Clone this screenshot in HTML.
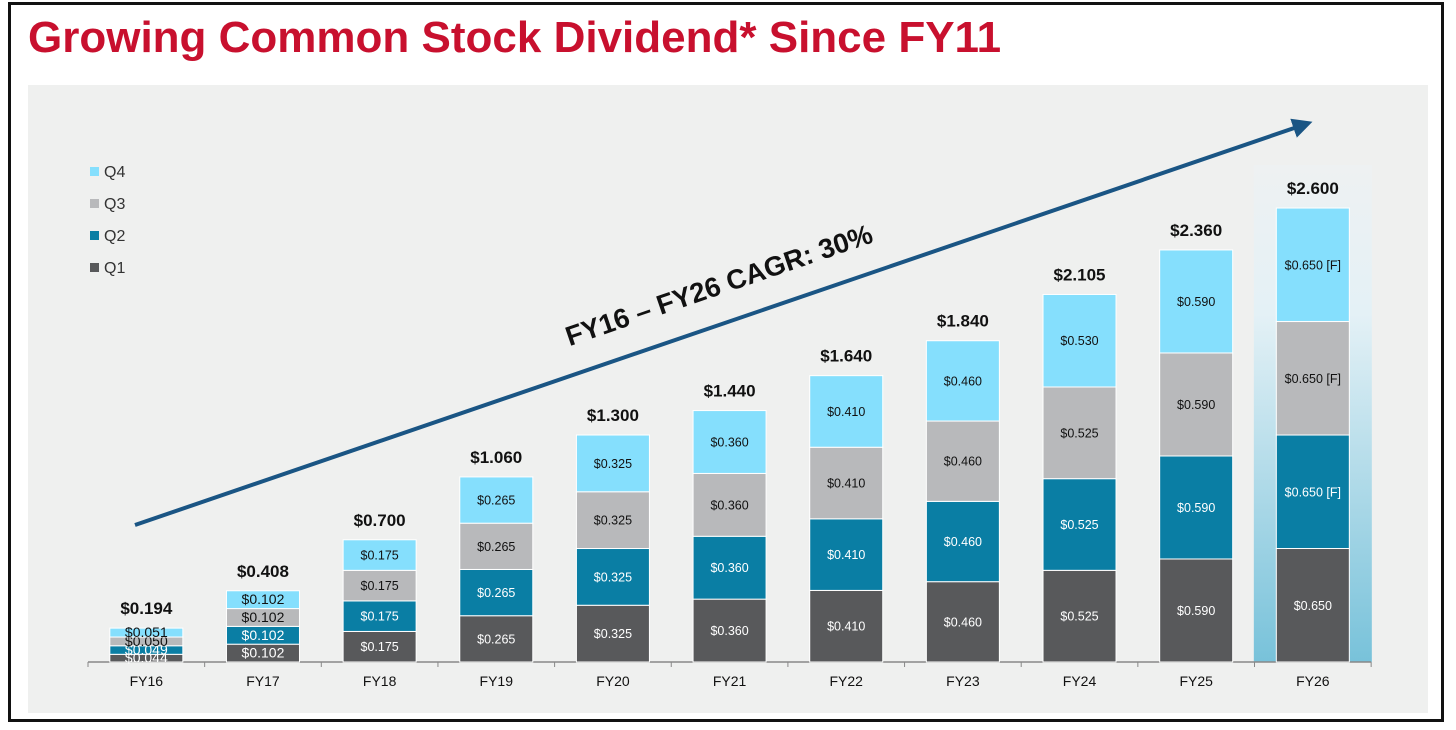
<!DOCTYPE html>
<html><head><meta charset="utf-8"><style>
body{margin:0;background:#fff;width:1456px;height:730px;overflow:hidden;font-family:"Liberation Sans",Arial,sans-serif;}
#frame{position:absolute;left:8px;top:2px;width:1436px;height:720px;border:3px solid #111;box-sizing:border-box;}
#title{position:absolute;left:28px;top:13px;font-size:44px;font-weight:bold;color:#c8102e;letter-spacing:0px;}
</style></head><body>
<div id="frame"></div>
<div id="title">Growing Common Stock Dividend* Since FY11</div>
<svg id="chart" width="1456" height="730" style="position:absolute;left:0;top:0">
<defs>
<linearGradient id="hl" x1="0" y1="0" x2="0" y2="1">
<stop offset="0" stop-color="#eef1f2"/><stop offset="0.3" stop-color="#e4f1f6"/><stop offset="1" stop-color="#78c2da"/>
</linearGradient>
<marker id="ah" markerWidth="5" markerHeight="5" refX="2.5" refY="2.5" orient="auto"><path d="M0,0 L5,2.5 L0,5 z" fill="#1a5584"/></marker>
</defs>
<rect x="28" y="85" width="1400" height="628" fill="#eff0ef"/>
</svg>
<script>
const categories=["FY16","FY17","FY18","FY19","FY20","FY21","FY22","FY23","FY24","FY25","FY26"];
const q1=[0.044,0.102,0.175,0.265,0.325,0.360,0.410,0.460,0.525,0.590,0.650];
const q2=[0.049,0.102,0.175,0.265,0.325,0.360,0.410,0.460,0.525,0.590,0.650];
const q3=[0.050,0.102,0.175,0.265,0.325,0.360,0.410,0.460,0.525,0.590,0.650];
const q4=[0.051,0.102,0.175,0.265,0.325,0.360,0.410,0.460,0.530,0.590,0.650];
const totals=["$0.194","$0.408","$0.700","$1.060","$1.300","$1.440","$1.640","$1.840","$2.105","$2.360","$2.600"];
const forecast=[false,false,false,false,false,false,false,false,false,false,true];
const seriesNames=["Q1","Q2","Q3","Q4"];
const colors=["#58595b","#0a7ea4","#b8b9bb","#85dffd"];
const textColors=["#fff","#fff","#111","#111"];
const NS="http://www.w3.org/2000/svg";
const svg=document.getElementById('chart');
const base=662, scale=174.6, x0=88, step=116.65, bw=73;
const y=v=>base-v*scale;
const xc=i=>x0+step*(i+0.5);
function mk(t,a,p){const e=document.createElementNS(NS,t);for(const k in a)e.setAttribute(k,a[k]);(p||svg).appendChild(e);return e;}
const hi=categories.length-1;
const hl=mk('rect',{x:xc(hi)-59,y:165,width:118,height:base-165,fill:'url(#hl)'});


const ax=mk('line',{x1:x0,y1:base,x2:x0+step*categories.length,y2:base,stroke:'#888','stroke-width':1.5});


for(let i=0;i<=categories.length;i++){const t=mk('line',{x1:x0+step*i,y1:base,x2:x0+step*i,y2:base+5,stroke:'#888'});

}
const series=[q1,q2,q3,q4];
categories.forEach((c,i)=>{
 let acc=0;
 series.forEach((s,k)=>{
  const v=s[i];const top=y(acc+v), bot=y(acc);
  const r=mk('rect',{x:xc(i)-bw/2,y:top,width:bw,height:bot-top,fill:colors[k],stroke:'#fff','stroke-width':1});
  
  
  const lbl='$'+v.toFixed(3)+(forecast[i]&&k>0?' [F]':'');
  const small=(bot-top)<20;
  const t=mk('text',{x:xc(i),y:(top+bot)/2+4.5,'text-anchor':'middle','font-size':small?14:12.5,fill:textColors[k]});
  t.textContent=lbl;
  
  
  acc+=v;
 });
 const tt=mk('text',{x:xc(i),y:y(acc)-14,'text-anchor':'middle','font-size':17,'font-weight':'bold',fill:'#111'});
 tt.textContent=totals[i];
 
 
 const cl=mk('text',{x:xc(i),y:686,'text-anchor':'middle','font-size':14,fill:'#111'});
 cl.textContent=c;
 
 
});
[3,2,1,0].forEach((k,j)=>{
 const yy=172+j*32;
 const r=mk('rect',{x:90,y:yy-5,width:9,height:9,fill:colors[k]});
 
 
 const t=mk('text',{x:104,y:yy+5,'font-size':16,fill:'#333'});
 t.textContent=seriesNames[k];
 
 
});
const ar=mk('line',{x1:135,y1:525,x2:1303,y2:125,stroke:'#1a5584','stroke-width':4,'marker-end':'url(#ah)'});


const cg=mk('text',{x:722,y:294,'text-anchor':'middle','font-size':27.5,'font-weight':'bold',fill:'#111',transform:'rotate(-18.9 722 294)'});
cg.textContent='FY16 – FY26 CAGR: 30%';


</script>
</body></html>
